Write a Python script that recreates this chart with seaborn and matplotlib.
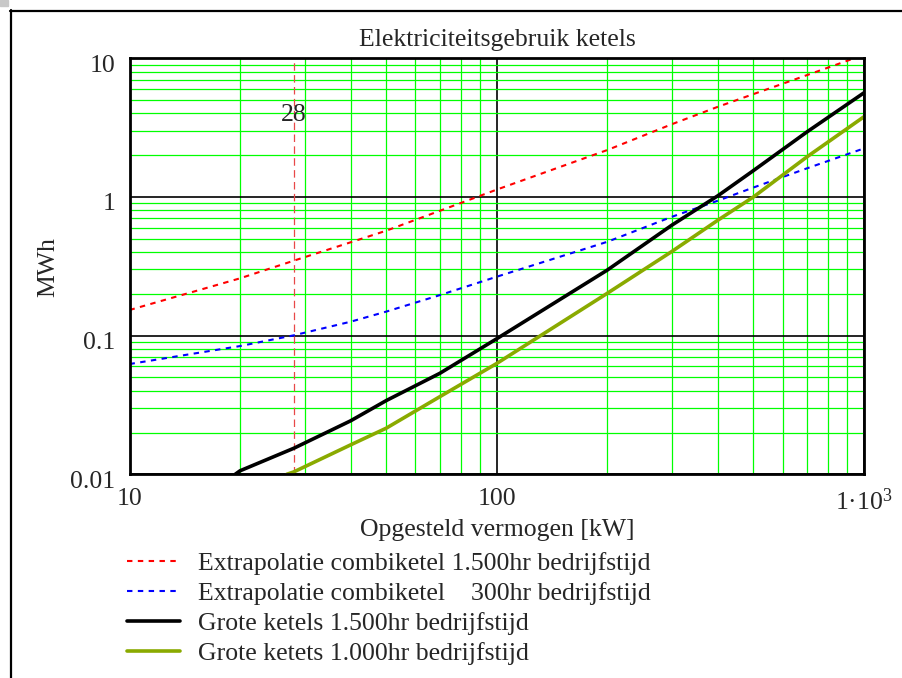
import numpy as np
import pandas as pd
import matplotlib
matplotlib.use("Agg")
import matplotlib.pyplot as plt
import matplotlib.transforms as mtrans
from matplotlib.patches import Rectangle
from matplotlib.lines import Line2D
import seaborn as sns

# ---------------- data ----------------
x_ext = [10, 20, 28, 40, 50, 70, 100, 200, 300, 400, 500, 700, 1000]
red_1500 = [0.153, 0.259, 0.347, 0.471, 0.571, 0.795, 1.13, 2.18, 3.35, 4.47, 5.52, 7.57, 10.6]
blue_300 = [0.0624, 0.0841, 0.1005, 0.126, 0.149, 0.196, 0.266, 0.475, 0.72, 0.94, 1.17, 1.61, 2.24]

x_black = [19.4, 20, 28, 40, 50, 70, 100, 200, 300, 400, 500, 700, 1000]
black_1500 = [0.01, 0.0106, 0.0154, 0.0243, 0.034, 0.0535, 0.095, 0.297, 0.627, 1.02, 1.55, 2.95, 5.64]

x_green = [26.8, 28, 40, 50, 70, 100, 200, 300, 400, 500, 700, 1000]
green_1000 = [0.01, 0.0104, 0.0163, 0.0215, 0.0363, 0.063, 0.202, 0.405, 0.68, 1.0, 1.95, 3.79]

marker_x = 28
marker_label = "28"
marker_label_y = 3.9

x_ticks = [10, 100, 1000]
x_ticklabels = ["10", "100", "1·10$^{3}$"]
y_ticks = [0.01, 0.1, 1, 10]
y_ticklabels = ["0.01", "0.1", "1", "10"]

labels = [
    "Extrapolatie combiketel 1.500hr bedrijfstijd",
    "Extrapolatie combiketel    300hr bedrijfstijd",
    "Grote ketels 1.500hr bedrijfstijd",
    "Grote ketets 1.000hr bedrijfstijd",
]
title = "Elektriciteitsgebruik ketels"
xlabel = "Opgesteld vermogen [kW]"
ylabel = "MWh"

# ---------------- style ----------------
sns.set_style("white")
plt.rcParams["font.family"] = ["Liberation Serif", "DejaVu Serif"]
plt.rcParams["mathtext.fontset"] = "custom"
plt.rcParams["mathtext.rm"] = "Liberation Serif"
plt.rcParams["mathtext.default"] = "regular"
FS = 18.5

W, H = 902, 678
fig = plt.figure(figsize=(W / 100, H / 100), dpi=100)
L, R, T, B = 129.5, 864, 58.3, 474.3
ax = fig.add_axes([L / W, 1 - B / H, (R - L) / W, (B - T) / H])

# outer frame + small grey square
fig.add_artist(Line2D([10 / W, 1.0], [1 - 10.5 / H, 1 - 10.5 / H], color="black", lw=1.6,
                      transform=fig.transFigure))
fig.add_artist(Line2D([11 / W, 11 / W], [0, 1 - 10 / H], color="black", lw=1.6,
                      transform=fig.transFigure))
fig.add_artist(Rectangle((0, 1 - 6 / H), 8 / W, 6 / H, color="#c8c8c8",
                         transform=fig.transFigure))

df_red = pd.DataFrame({"x": x_ext, "y": red_1500})
df_blue = pd.DataFrame({"x": x_ext, "y": blue_300})
df_black = pd.DataFrame({"x": x_black, "y": black_1500})
df_green = pd.DataFrame({"x": x_green, "y": green_1000})

sns.lineplot(data=df_red, x="x", y="y", ax=ax, color="#ff0000", lw=1.5,
             linestyle=(0, (2.6, 2.6)), label=labels[0], zorder=5)
sns.lineplot(data=df_blue, x="x", y="y", ax=ax, color="#0000ff", lw=1.5,
             linestyle=(0, (2.6, 2.6)), label=labels[1], zorder=5)
sns.lineplot(data=df_black, x="x", y="y", ax=ax, color="#000000", lw=2.6,
             label=labels[2], zorder=6)
sns.lineplot(data=df_green, x="x", y="y", ax=ax, color="#8aaa00", lw=2.6,
             label=labels[3], zorder=6)

ax.axvline(marker_x, color="#e84848", lw=0.9, linestyle=(0, (6, 3.5)), zorder=4)
ax.text(marker_x, marker_label_y, marker_label, ha="center", va="center",
        fontsize=FS, zorder=7)

ax.set_xscale("log")
ax.set_yscale("log")
ax.set_xlim(10, 1000)
ax.set_ylim(0.01, 10)

ax.set_xticks(x_ticks)
ax.set_xticklabels(x_ticklabels, fontsize=FS)
ax.set_yticks(y_ticks)
ax.set_yticklabels(y_ticklabels, fontsize=FS)
ax.xaxis.set_minor_locator(matplotlib.ticker.LogLocator(base=10, subs=np.arange(2, 10)))
ax.yaxis.set_minor_locator(matplotlib.ticker.LogLocator(base=10, subs=np.arange(2, 10)))
ax.xaxis.set_minor_formatter(matplotlib.ticker.NullFormatter())
ax.yaxis.set_minor_formatter(matplotlib.ticker.NullFormatter())
ax.tick_params(axis="both", which="both", length=0)
ax.tick_params(axis="x", pad=10)
ax.tick_params(axis="y", pad=10)

ax.grid(which="minor", color="#00ff00", lw=0.9, zorder=1)
ax.grid(which="major", color="#000000", lw=1.2, zorder=2)
ax.set_axisbelow(True)

for lab in ax.get_yticklabels():
    lab.set_transform(lab.get_transform() + mtrans.ScaledTranslation(0, -0.05, fig.dpi_scale_trans))

for sp in ax.spines.values():
    sp.set_visible(True)
    sp.set_color("black")
    sp.set_linewidth(2.0)
    sp.set_zorder(8)

ax.set_xlabel("")
ax.set_ylabel("")
fig.text(497 / W, 1 - 40 / H, title, ha="center", va="center", fontsize=FS)
fig.text(497 / W, 1 - 530 / H, xlabel, ha="center", va="center", fontsize=FS)
fig.text(48 / W, 1 - 267 / H, ylabel, ha="center", va="center", rotation=90, fontsize=FS)

ax.legend(loc="upper left", bbox_to_anchor=(127 / W, 1 - 552 / H),
          bbox_transform=fig.transFigure, frameon=False, fontsize=FS,
          handlelength=2.05, handletextpad=0.72, labelspacing=0.27, borderpad=0,
          borderaxespad=0)

fig.savefig("out.png", dpi=100)
